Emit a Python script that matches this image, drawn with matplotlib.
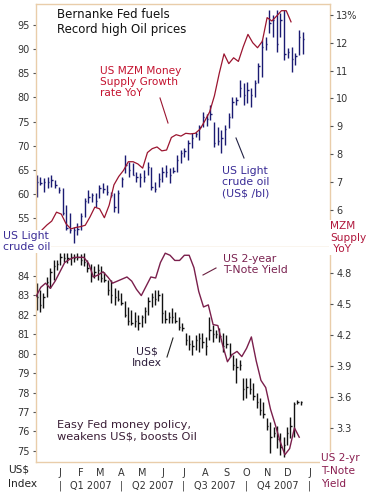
import matplotlib
matplotlib.use("Agg")
import matplotlib.pyplot as plt
import matplotlib.dates as mdates
import pandas as pd
from matplotlib.lines import Line2D
from matplotlib.transforms import blended_transform_factory

W, H = 372, 496

# --- US light crude oil, US$/bl (high / low / close per bar) ---
oil_high = [63.9, 63.5, 63.2, 63.5, 63.9, 62.9, 61.4, 61.2, 57.7, 56.0,
            53.1, 53.9, 56.0, 59.1, 60.8, 60.2, 60.2, 61.8, 62.3, 61.8,
            60.4, 60.2, 60.8, 63.5, 68.0, 66.6, 66.4, 64.5, 64.3, 64.9,
            66.6, 65.6, 62.5, 64.3, 65.6, 66.0, 65.4, 65.6, 68.0, 69.1,
            69.5, 71.2, 72.6, 72.8, 74.3, 77.0, 76.5, 78.4, 74.9, 73.9,
            73.2, 74.3, 76.8, 80.1, 80.1, 83.6, 83.0, 83.2, 81.9, 83.6,
            87.1, 91.9, 92.5, 98.1, 97.1, 98.1, 97.5, 98.1, 90.2, 90.4,
            89.2, 94.0, 93.5]
oil_low = [59.3, 61.8, 60.4, 61.2, 61.4, 61.2, 60.2, 55.6, 52.5, 51.9,
           49.8, 51.5, 52.5, 55.2, 58.1, 58.3, 57.3, 59.1, 60.2, 59.8,
           59.4, 56.2, 56.0, 61.5, 64.3, 63.5, 63.9, 62.5, 61.4, 62.5,
           63.9, 60.8, 60.4, 61.4, 62.5, 63.5, 62.3, 64.3, 64.5, 66.4,
           67.6, 67.0, 69.5, 71.8, 71.2, 73.9, 74.0, 75.3, 69.7, 70.1,
           68.5, 70.1, 73.7, 75.7, 78.4, 80.1, 78.4, 78.8, 78.0, 80.1,
           83.0, 84.2, 89.8, 93.3, 92.5, 89.4, 92.5, 87.7, 88.2, 85.3,
           86.7, 88.8, 89.0]
oil_close = [62.5, 62.2, 62.5, 62.5, 62.9, 61.9, 60.8, 56.0, 53.0, 52.6,
             52.5, 52.8, 55.5, 58.5, 59.3, 59.7, 58.5, 61.2, 61.0, 60.4,
             59.8, 57.3, 60.2, 63.0, 66.0, 65.0, 64.0, 63.5, 63.5, 63.5,
             65.5, 61.5, 61.0, 63.0, 64.5, 64.5, 64.0, 64.8, 67.0, 68.5,
             68.8, 70.5, 71.5, 72.5, 73.8, 76.0, 75.5, 76.5, 70.5, 71.0,
             71.5, 73.5, 76.0, 79.0, 79.5, 82.0, 80.5, 81.5, 80.5, 83.0,
             86.5, 90.5, 91.0, 95.5, 96.0, 91.0, 96.0, 89.0, 89.5, 88.0,
             88.5, 92.5, 92.0]

# --- US MZM money supply growth, % YoY (weekly) ---
mzm_yoy = [5.29, 5.46, 5.60, 5.92, 5.85, 5.50, 5.32, 5.37, 5.40, 5.45,
           5.75, 6.10, 6.04, 5.72, 6.17, 6.90, 7.20, 7.42, 7.73, 7.73,
           7.65, 7.50, 8.06, 8.20, 8.26, 8.12, 8.15, 8.60, 8.70, 8.65,
           8.75, 8.73, 8.75, 8.90, 9.20, 9.52, 10.1, 10.9, 11.6, 11.25,
           11.46, 11.33, 11.85, 12.3, 12.0, 11.82, 12.05, 12.9, 12.78, 12.96,
           13.15, 13.15, 12.75]

# --- US$ index (high / low / close per bar) ---
usd_high = [83.64, 83.3, 83.1, 83.95, 84.4, 84.8, 84.8, 85.2, 85.2, 85.2,
            85.2, 85.15, 85.2, 85.15, 85.2, 84.8, 84.6, 84.5, 84.6, 84.5,
            84.2, 83.8, 83.8, 83.4, 83.3, 83.1, 82.7, 82.4, 82.25, 82.15,
            82.0, 82.0, 82.4, 82.9, 83.1, 83.3, 83.3, 83.1, 82.25, 82.15,
            82.35, 82.15, 81.9, 81.6, 81.07, 80.97, 80.7, 80.97, 81.07, 81.07,
            80.86, 81.9, 81.5, 81.2, 81.3, 81.07, 80.97, 80.55, 79.94, 79.78,
            79.68, 78.75, 78.75, 78.75, 78.5, 78.0, 77.7, 77.5, 76.7, 76.5,
            76.23, 76.3, 75.9, 75.7, 76.23, 76.75, 77.5, 77.6, 77.55]
usd_low = [82.25, 82.15, 82.35, 82.9, 83.4, 83.8, 84.3, 84.57, 84.7, 84.67,
           84.57, 84.7, 84.8, 84.57, 84.5, 84.2, 83.7, 83.9, 83.8, 83.7,
           83.7, 83.0, 82.6, 82.5, 82.7, 82.5, 81.9, 81.5, 81.5, 81.4,
           81.2, 81.4, 81.6, 82.0, 82.4, 82.5, 82.7, 81.6, 81.6, 81.6,
           81.6, 81.6, 81.2, 81.15, 80.45, 80.2, 79.94, 80.2, 80.1, 80.3,
           79.94, 80.7, 80.6, 80.8, 80.6, 80.1, 80.3, 79.83, 79.16, 78.5,
           79.16, 77.6, 77.7, 77.95, 77.6, 77.2, 76.85, 76.7, 76.1, 74.9,
           75.7, 75.15, 74.8, 74.7, 75.3, 75.67, 75.7, 77.4, 77.35]
usd_close = [82.9, 82.5, 82.9, 83.7, 84.2, 84.5, 84.6, 85.0, 84.9, 84.9,
             85.0, 84.9, 85.0, 84.8, 84.7, 84.4, 84.0, 84.2, 84.3, 83.9,
             83.8, 83.3, 83.0, 82.9, 82.8, 82.6, 82.0, 81.7, 81.6, 81.7,
             81.6, 81.9, 82.2, 82.7, 82.9, 82.8, 83.0, 82.1, 81.8, 81.9,
             81.9, 81.7, 81.4, 81.3, 80.7, 80.5, 80.4, 80.7, 80.8, 80.6,
             80.4, 81.2, 81.0, 81.0, 80.9, 80.4, 80.5, 80.0, 79.4, 79.3,
             79.4, 78.2, 78.3, 78.2, 77.8, 77.5, 77.1, 76.9, 76.3, 75.7,
             75.9, 75.6, 75.2, 75.3, 75.9, 76.3, 77.4, 77.5, 77.5]

# --- US 2-year T-note yield, % (weekly) ---
tnote_2y = [4.57, 4.66, 4.70, 4.65, 4.72, 4.81, 4.90, 4.93, 4.95, 4.95,
            4.95, 4.89, 4.76, 4.78, 4.81, 4.76, 4.70, 4.72, 4.74, 4.76,
            4.72, 4.64, 4.58, 4.67, 4.76, 4.75, 4.90, 4.99, 4.97, 4.92,
            4.92, 4.97, 4.97, 4.85, 4.62, 4.47, 4.49, 4.30, 4.29, 4.10,
            3.94, 4.01, 4.04, 3.99, 4.07, 4.18, 3.95, 3.76, 3.69, 3.48,
            3.33, 3.17, 3.04, 3.10, 3.30, 3.21]

oil_dates = pd.date_range("2006-11-28", "2007-12-22", periods=len(oil_high))
usd_dates = pd.date_range("2006-11-28", "2007-12-19", periods=len(usd_high))
mzm_dates = pd.date_range("2006-12-06", periods=len(mzm_yoy), freq="7D")
tnote_dates = pd.date_range("2006-11-27", periods=len(tnote_2y), freq="7D")

month_ticks = pd.date_range("2007-01-01", "2008-01-01", freq="MS")
month_labels = ["J", "F", "M", "A", "M", "J", "J", "A", "S", "O", "N", "D", "J"]
quarter_edges = pd.date_range("2007-01-01", "2008-01-01", freq="QS")
quarter_labels = ["Q1 2007", "Q2 2007", "Q3 2007", "Q4 2007"]

FRAME = "#E9CDAA"
TICK = "#555555"
plt.rcParams["font.family"] = ["DejaVu Sans"]
WHITE_BOX = dict(facecolor="white", edgecolor="none", pad=0.5)


def fx(x):
    return x / W


def fy(y):
    return 1 - y / H


def hlc_bars(ax, dates, hi, lo, cl, color):
    x = mdates.date2num(dates)
    ax.vlines(x, lo, hi, color=color, lw=1.0)
    ax.hlines(cl, x, x + 2.0, color=color, lw=1.0)


def frame(ax, sides):
    for name, sp in ax.spines.items():
        sp.set_visible(name in sides)
        sp.set_color(FRAME)
        sp.set_linewidth(1.0)


fig = plt.figure(figsize=(W / 100, H / 100), dpi=100)
fig.patch.set_facecolor("white")

L, R, T1, MID, B2 = 36, 330, 4, 247, 462
ax1 = fig.add_axes([fx(L), fy(MID), (R - L) / W, (MID - T1) / H])
ax2 = fig.add_axes([fx(L), fy(B2), (R - L) / W, (B2 - MID) / H])
xlim = (mdates.date2num(pd.Timestamp("2006-11-27")),
        mdates.date2num(pd.Timestamp("2008-01-31")))

# top panel: oil bars + MZM growth
hlc_bars(ax1, oil_dates, oil_high, oil_low, oil_close, "#1b1b72")
ax1.set_xlim(xlim)
ax1.set_ylim(49.0, 99.35)
ax1.set_yticks(range(55, 100, 5))
ax1.set_xticks([])
frame(ax1, ("left", "top", "right", "bottom"))
ax1.tick_params(axis="y", direction="out", length=2.5, width=0.8, color=TICK,
                labelsize=7, labelcolor="#333333", pad=2)

ax1r = ax1.twinx()
ax1r.plot(mdates.date2num(mzm_dates), mzm_yoy, color="#9b1530", lw=0.9)
ax1r.set_ylim(4.67, 13.39)
ax1r.set_yticks(range(6, 14))
ax1r.set_yticklabels([str(v) for v in range(6, 13)] + ["13%"])
ax1r.set_xlim(xlim)
frame(ax1r, ())
ax1r.tick_params(axis="y", direction="out", length=2.5, width=0.8, color=TICK,
                 labelsize=7, labelcolor="#333333", pad=2)

# bottom panel: dollar index bars + 2-year yield
hlc_bars(ax2, usd_dates, usd_high, usd_low, usd_close, "#111111")
ax2.set_xlim(xlim)
ax2.set_ylim(74.43, 85.49)
ax2.set_yticks(range(75, 85))
frame(ax2, ("left", "bottom", "right"))
ax2.tick_params(axis="y", direction="out", length=2.5, width=0.8, color=TICK,
                labelsize=7, labelcolor="#333333", pad=2)
ax2.set_xticks(mdates.date2num(month_ticks))
ax2.set_xticklabels(month_labels)
ax2.tick_params(axis="x", length=0, labelsize=7, labelcolor="#333333", pad=4)

ax2r = ax2.twinx()
ax2r.plot(mdates.date2num(tnote_dates), tnote_2y, color="#7a1f4c", lw=1.0)
ax2r.set_ylim(2.97, 5.05)
ax2r.set_yticks([3.3, 3.6, 3.9, 4.2, 4.5, 4.8])
ax2r.set_xlim(xlim)
frame(ax2r, ())
ax2r.tick_params(axis="y", direction="out", length=2.5, width=0.8, color=TICK,
                 labelsize=7, labelcolor="#333333", pad=2)

# quarter row under the month letters
qtr = blended_transform_factory(ax2.transData, fig.transFigure)
qx = mdates.date2num(quarter_edges)
for x in qx:
    fig.text(x, fy(486), "|", transform=qtr, ha="center", va="center",
             fontsize=7, color="#333333")
for a, b, lab in zip(qx[:-1], qx[1:], quarter_labels):
    fig.text((a + b) / 2, fy(486), lab, transform=qtr, ha="center",
             va="center", fontsize=7, color="#333333")

# captions
fig.text(fx(57), fy(8), "Bernanke Fed fuels\nRecord high Oil prices",
         fontsize=8.5, color="#111111", va="top", ha="left", linespacing=1.15)
fig.text(fx(100), fy(66), "US MZM Money\nSupply Growth\nrate YoY",
         fontsize=7.6, color="#c4122f", va="top", ha="left", linespacing=1.15)
fig.text(fx(222), fy(166), "US Light\ncrude oil\n(US$ /bl)",
         fontsize=7.8, color="#3a2c96", va="top", ha="left", linespacing=1.15)
fig.text(fx(3), fy(231), "US Light\ncrude oil",
         fontsize=7.8, color="#3a2c96", va="top", ha="left", linespacing=1.15,
         bbox=WHITE_BOX)
fig.text(fx(330), fy(221), "MZM\nSupply\n YoY",
         fontsize=7.6, color="#b0173c", va="top", ha="left", linespacing=1.2,
         bbox=WHITE_BOX)
fig.text(fx(223), fy(254), "US 2-year\nT-Note Yield",
         fontsize=7.8, color="#7a2250", va="top", ha="left", linespacing=1.15)
fig.text(fx(147), fy(346), "US$\nIndex",
         fontsize=7.8, color="#2d1e3c", va="top", ha="center", linespacing=1.2)
fig.text(fx(57), fy(420), "Easy Fed money policy,\nweakens US$, boosts Oil",
         fontsize=8.2, color="#3a1e36", va="top", ha="left", linespacing=1.15)
fig.text(fx(8), fy(465), "US$\nIndex",
         fontsize=7.6, color="#222222", va="top", ha="left", linespacing=1.45)
fig.text(fx(321), fy(453), "US 2-yr\nT-Note\nYield",
         fontsize=7.6, color="#8a1e50", va="top", ha="left", linespacing=1.35,
         bbox=WHITE_BOX)

# pointer strokes
for (x0, y0, x1, y1, c) in [(160, 98, 168, 123, "#9b1530"),
                            (236, 138, 244, 158, "#222244"),
                            (203, 275, 216, 268, "#6a2040"),
                            (167, 357, 173, 338, "#222222")]:
    fig.add_artist(Line2D([fx(x0), fx(x1)], [fy(y0), fy(y1)], color=c, lw=0.8))

fig.savefig("out.png", dpi=100, facecolor="white")
